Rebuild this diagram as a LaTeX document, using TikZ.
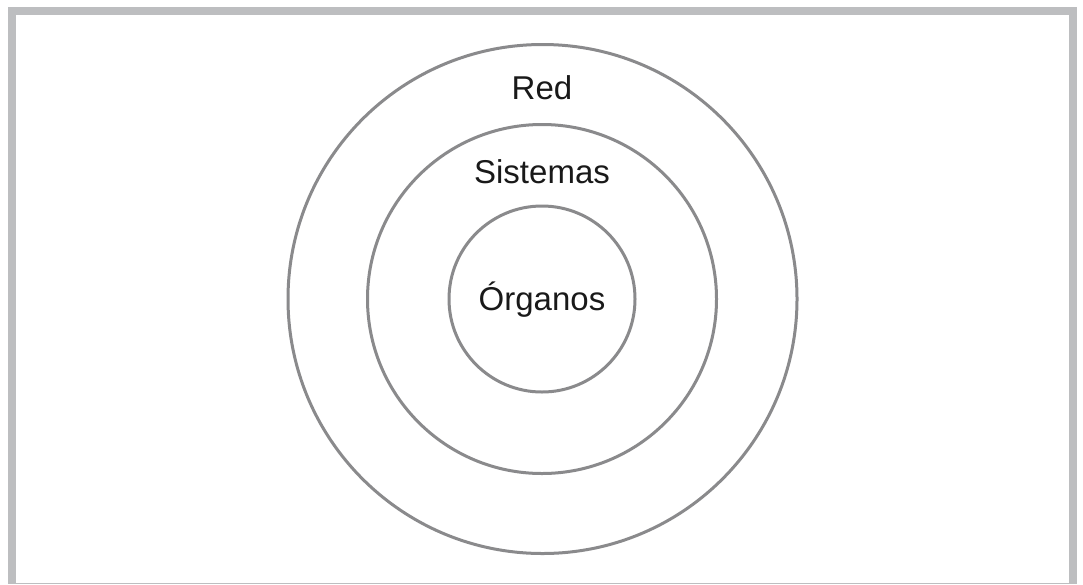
\documentclass[tikz,border=0pt]{standalone}
\usepackage{fontspec}
\setmainfont{Liberation Sans}
\definecolor{framegrey}{HTML}{BDBEC0}
\definecolor{ringgrey}{HTML}{8A8A8C}
\begin{document}
\begin{tikzpicture}[x=1pt,y=-1pt,
  ring/.style={circle,draw=ringgrey,line width=3pt,inner sep=0pt},
  lbl/.style={font=\fontsize{33}{38}\selectfont,text=black!90,inner sep=0pt}]
\useasboundingbox (0,0) rectangle (1083,584);
\fill[white] (0,0) rectangle (1083,584);
% frame
\fill[framegrey] (8,7) rectangle (1077,15);
\fill[framegrey] (8,7) rectangle (16,584);
\fill[framegrey] (1069,7) rectangle (1077,584);
\fill[framegrey] (8,582.5) rectangle (1077,584);
% rings
\node[ring,minimum size=509pt] (red) at (542.5,299) {};
\node[ring,minimum size=349pt] (sis) at (542,299) {};
\node[ring,minimum size=186pt] (org) at (542,299) {};
\node[lbl] (tred) at (542,88) {Red};
\node[lbl] (tsis) at (542,172) {Sistemas};
\node[lbl] (torg) at (542,300) {Órganos};
\end{tikzpicture}
\end{document}
